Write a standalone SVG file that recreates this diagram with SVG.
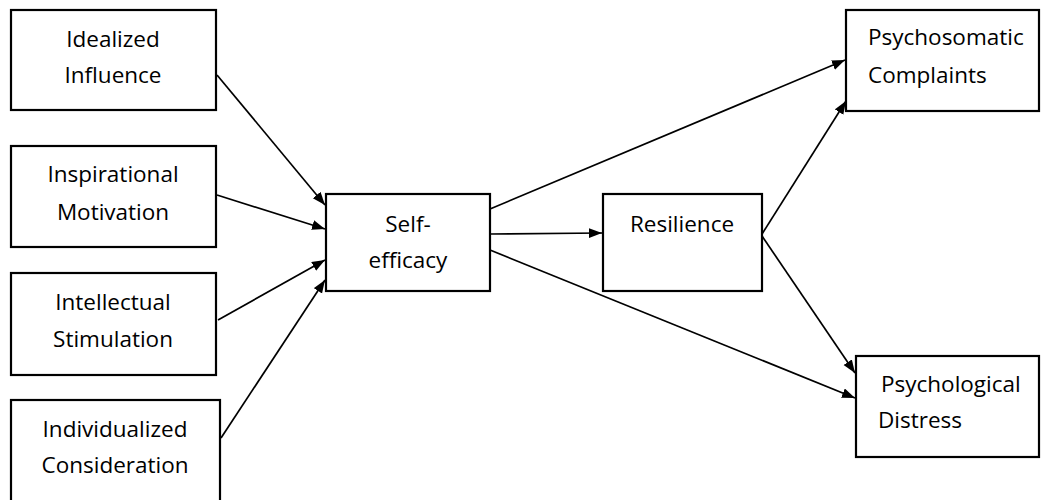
<svg xmlns="http://www.w3.org/2000/svg" width="1043" height="500" viewBox="0 0 1043 500">
<style>
.box{fill:#fff;stroke:#000;stroke-width:2.2}
.t{font-family:"Open Sans","Liberation Sans",sans-serif;font-size:22.5px;fill:#000}
.c{text-anchor:middle}
.e{stroke:#000;stroke-width:1.7;fill:none;marker-end:url(#ah)}
</style>
<defs>
<marker id="ah" markerUnits="userSpaceOnUse" markerWidth="14" markerHeight="11" refX="13" refY="5" orient="auto">
<path d="M0,0 L13,5 L0,10 z" fill="#000"/>
</marker>
</defs>
<rect width="1043" height="500" fill="#fff"/>
<g id="edges">
<line class="e" x1="217" y1="75" x2="325" y2="205"/>
<line class="e" x1="217" y1="195" x2="325" y2="229"/>
<line class="e" x1="218" y1="320" x2="325" y2="260"/>
<line class="e" x1="221" y1="438" x2="325" y2="280"/>
<line class="e" x1="490" y1="209" x2="845" y2="60"/>
<line class="e" x1="490" y1="234" x2="602" y2="233"/>
<line class="e" x1="490" y1="250" x2="855" y2="398"/>
<line class="e" x1="762" y1="234" x2="846" y2="101"/>
<line class="e" x1="762" y1="236" x2="855" y2="373"/>
</g>
<g id="idealized">
<rect class="box" x="11" y="10" width="205" height="100"/>
<text class="t c" x="113" y="47">Idealized</text>
<text class="t c" x="113" y="83">Influence</text>
</g>
<g id="inspirational">
<rect class="box" x="11" y="146" width="205" height="101"/>
<text class="t c" x="113" y="182">Inspirational</text>
<text class="t c" x="113" y="220">Motivation</text>
</g>
<g id="intellectual">
<rect class="box" x="11" y="273" width="205" height="102"/>
<text class="t c" x="113" y="310">Intellectual</text>
<text class="t c" x="113" y="347">Stimulation</text>
</g>
<g id="individualized">
<rect class="box" x="11" y="400" width="209" height="110"/>
<text class="t c" x="115" y="437">Individualized</text>
<text class="t c" x="115" y="473">Consideration</text>
</g>
<g id="selfefficacy">
<rect class="box" x="326" y="194" width="164" height="97"/>
<text class="t c" x="408" y="232">Self-</text>
<text class="t c" x="408" y="268">efficacy</text>
</g>
<g id="resilience">
<rect class="box" x="603" y="194" width="159" height="97"/>
<text class="t c" x="682" y="232">Resilience</text>
</g>
<g id="psychosomatic">
<rect class="box" x="846" y="10" width="193" height="101"/>
<text class="t" x="868" y="45">Psychosomatic</text>
<text class="t" x="868" y="83">Complaints</text>
</g>
<g id="psychological">
<rect class="box" x="856" y="356" width="183" height="101"/>
<text class="t" x="881" y="392">Psychological</text>
<text class="t" x="878" y="428">Distress</text>
</g>
</svg>
